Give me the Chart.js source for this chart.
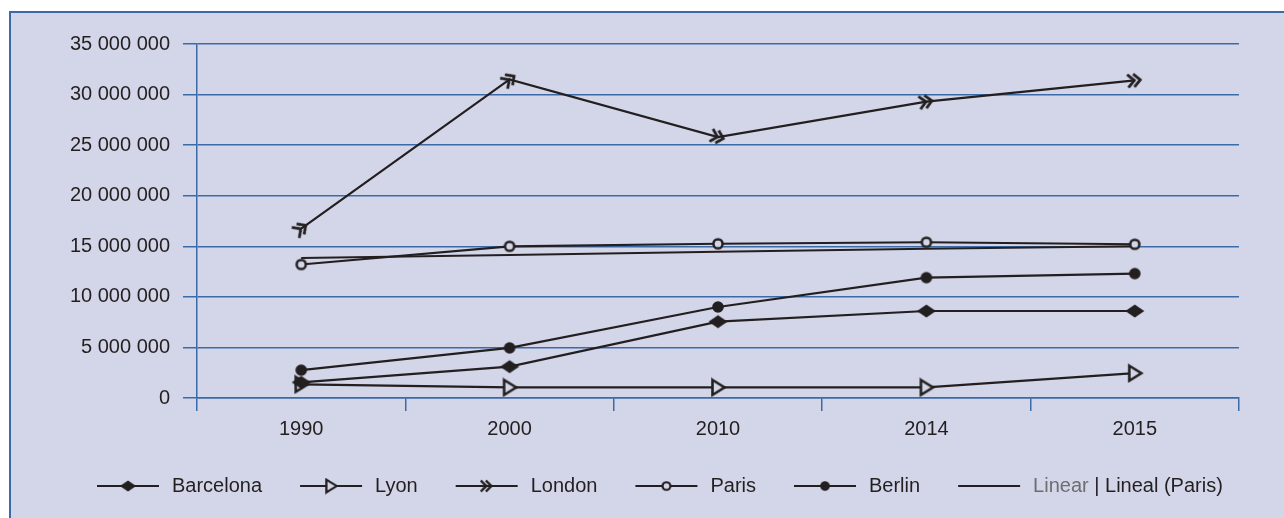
<!DOCTYPE html>
<html>
<head>
<meta charset="utf-8">
<script src="https://cdn.jsdelivr.net/npm/chart.js@4.4.1/dist/chart.umd.min.js"></script>
<style>
  html, body { margin: 0; padding: 0; background: #fff; }
  #wrap { position: relative; width: 1284px; height: 518px; overflow: hidden; }
  #frame {
    position: absolute; left: 9px; top: 11px; right: 0; bottom: 0;
    background: #d3d6e8;
    border-left: 2px solid #3a6aa8;
    border-top: 2px solid #3a6aa8;
  }
  #chart { position: absolute; left: 0; top: 0; }
</style>
</head>
<body>
<div id="wrap">
  <div id="frame"></div>
  <canvas id="chart" width="1284" height="518"></canvas>
</div>
<script>
// ── Data (passengers per year) ───────────────────────────────────────────
const years     = ['1990', '2000', '2010', '2014', '2015'];
const barcelona = [1550000, 3100000, 7550000, 8600000, 8600000];
const lyon      = [1350000, 1050000, 1050000, 1050000, 2450000];
const london    = [16750000, 31500000, 25800000, 29300000, 31400000];
const paris     = [13200000, 15000000, 15250000, 15400000, 15200000];
const berlin    = [2750000, 4950000, 9000000, 11900000, 12300000];
const parisTrend = [13850000, 14150000, 14450000, 14750000, 15000000];

const yTicks = [0, 5000000, 10000000, 15000000, 20000000, 25000000, 30000000, 35000000];

// ── Colours / fonts ──────────────────────────────────────────────────────
const INK   = '#231f20';
const BLUE  = '#3a6aa8';
const FONT  = "'Liberation Sans', Arial, sans-serif";
const FSIZE = 20;

// ── Marker canvases (used as Chart.js pointStyle and in the legend) ──────
function makeCanvas(w, h, draw) {
  const c = document.createElement('canvas');
  c.width = w; c.height = h;
  const g = c.getContext('2d');
  draw(g, w, h);
  return c;
}

const diamond = makeCanvas(22, 16, (g) => {
  g.fillStyle = INK;
  g.beginPath();
  g.moveTo(1.5, 8); g.lineTo(11, 1.5); g.lineTo(20.5, 8); g.lineTo(11, 14.5);
  g.closePath(); g.fill();
});

const triangle = makeCanvas(20, 20, (g) => {
  g.strokeStyle = INK; g.lineWidth = 2.6; g.lineJoin = 'miter';
  g.fillStyle = '#d3d6e8';
  g.beginPath();
  g.moveTo(4.5, 2.5); g.lineTo(16.5, 10); g.lineTo(4.5, 17.5);
  g.closePath(); g.fill(); g.stroke();
});

const chevrons = makeCanvas(20, 18, (g) => {
  g.strokeStyle = INK; g.lineWidth = 2.8;
  g.beginPath();
  g.moveTo(3, 2.5); g.lineTo(9.5, 9); g.lineTo(3, 15.5);
  g.moveTo(9, 2.5); g.lineTo(15.5, 9); g.lineTo(9, 15.5);
  g.stroke();
});

const ring = makeCanvas(14, 14, (g) => {
  g.strokeStyle = INK; g.lineWidth = 2.5; g.fillStyle = '#d3d6e8';
  g.beginPath(); g.arc(7, 7, 4.6, 0, Math.PI * 2); g.fill(); g.stroke();
});

const dot = makeCanvas(14, 14, (g) => {
  g.fillStyle = INK;
  g.beginPath(); g.arc(7, 7, 5.8, 0, Math.PI * 2); g.fill();
});

// London's chevrons follow the direction of the line coming into them
function alongLine(ctx) {
  const chart = ctx.chart, i = ctx.dataIndex;
  const data = ctx.dataset.data;
  const x = chart.scales.x, y = chart.scales.y;
  if (!x || !y || x.width === 0) return 0;
  const a = i > 0 ? i - 1 : 0;
  const b = i > 0 ? i : 1;
  const dx = x.getPixelForValue(b) - x.getPixelForValue(a);
  const dy = y.getPixelForValue(data[b]) - y.getPixelForValue(data[a]);
  return Math.atan2(dy, dx) * 180 / Math.PI;
}

function series(label, data, marker, extra) {
  return Object.assign({
    label, data,
    borderColor: INK,
    borderWidth: 2.2,
    pointStyle: marker,
    pointRadius: 8,
    tension: 0,
  }, extra || {});
}

const datasets = [
  series('Barcelona', barcelona, diamond),
  series('Lyon', lyon, triangle),
  series('London', london, chevrons, { pointRotation: alongLine }),
  series('Paris', paris, ring),
  series('Berlin', berlin, dot),
  series('Linear (Paris)', parisTrend, false, { pointRadius: 0, borderWidth: 2 }),
];

// ── Legend: line with marker in the middle, then label ───────────────────
const legendPlugin = {
  id: 'lineLegend',
  afterDraw(chart) {
    const g = chart.ctx;
    const y = 486;
    let x = 97;
    g.save();
    g.font = `${FSIZE}px ${FONT}`;
    g.textBaseline = 'middle';
    chart.data.datasets.forEach((ds, i) => {
      g.strokeStyle = INK; g.lineWidth = 2;
      g.beginPath(); g.moveTo(x, y); g.lineTo(x + 62, y); g.stroke();
      if (ds.pointStyle) {
        const m = ds.pointStyle;
        const s = 0.85;
        g.drawImage(m, x + 31 - m.width * s / 2, y - m.height * s / 2, m.width * s, m.height * s);
      }
      let tx = x + 75;
      if (i === datasets.length - 1) {
        const parts = [['Linear ', '#6d6e71'], ['| ', INK], ['Lineal (Paris)', INK]];
        parts.forEach(([t, col]) => {
          g.fillStyle = col; g.fillText(t, tx, y);
          tx += g.measureText(t).width;
        });
      } else {
        g.fillStyle = INK; g.fillText(ds.label, tx, y);
        tx += g.measureText(ds.label).width;
      }
      x = tx + 38;
    });
    g.restore();
  }
};

// ── Chart ────────────────────────────────────────────────────────────────
new Chart(document.getElementById('chart'), {
  type: 'line',
  data: { labels: years, datasets },
  plugins: [legendPlugin],
  options: {
    responsive: false,
    animation: false,
    devicePixelRatio: 1,
    layout: { padding: { top: 44, right: 45, left: 0, bottom: 0 } },
    plugins: { legend: { display: false }, tooltip: { enabled: false } },
    scales: {
      x: {
        offset: true,
        grid: {
          offset: true, drawOnChartArea: false, drawTicks: true,
          tickLength: 13, color: BLUE, lineWidth: 1.5,
        },
        border: { display: true, color: BLUE, width: 1.5 },
        ticks: { color: INK, font: { family: FONT, size: FSIZE }, padding: 6 },
        afterFit(s) { s.height = 120; },
      },
      y: {
        min: 0, max: 35000000,
        afterBuildTicks(s) { s.ticks = yTicks.map(v => ({ value: v })); },
        grid: { color: BLUE, lineWidth: 1.5, tickLength: 14 },
        border: { display: true, color: BLUE, width: 1.5 },
        ticks: {
          color: INK, font: { family: FONT, size: FSIZE }, padding: 13,
          callback: v => String(v).replace(/\B(?=(\d{3})+(?!\d))/g, ' '),
        },
        afterFit(s) { s.width = 197; },
      },
    },
  },
});
</script>
</body>
</html>
